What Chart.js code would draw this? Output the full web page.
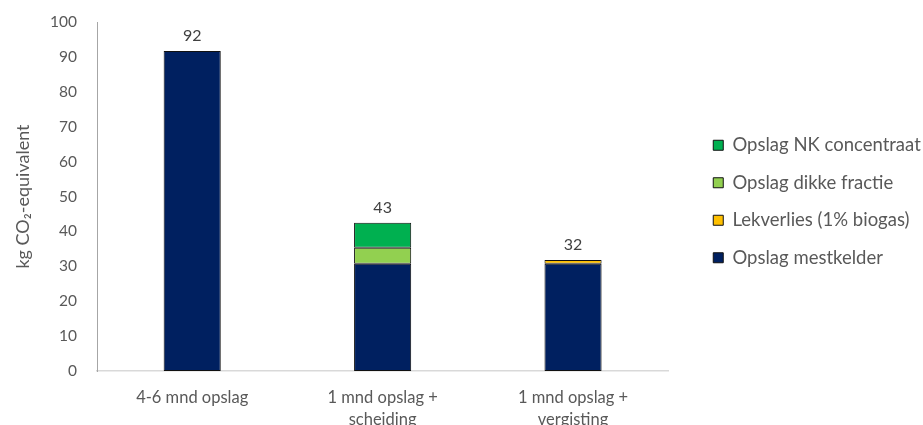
<!DOCTYPE html>
<html lang="nl">
<head>
  <meta charset="UTF-8" />
  <title>CO2-emissie mestopslag</title>
  <script src="https://cdn.jsdelivr.net/npm/chart.js"></script>
  <style>
    html, body {
      margin: 0;
      background: #fff;
      overflow: hidden;
    }
    #wrap {
      width: 923px;
      height: 425px;
      overflow: hidden;
    }
  </style>
</head>
<body>
  <div id="wrap">
    <canvas id="co2Chart" width="923" height="445"></canvas>
  </div>

  <script>
    // Scenario's en emissies per onderdeel (kg CO2-eq); null = geen bijdrage
    const categories = [['4-6 mnd opslag'], ['1 mnd opslag +', 'scheiding'], ['1 mnd opslag +', 'vergisting']];
    const mestkelder = [91.7, 30.7, 30.7];
    const lekverlies = [null, null, 1.1];
    const dikkeFractie = [null, 4.6, null];
    const nkConcentraat = [null, 7.2, null];
    const yTicks = [0, 10, 20, 30, 40, 50, 60, 70, 80, 90, 100];

    const textColor = '#595959';
    const fontFamily = 'Lato, "Open Sans", sans-serif';
    const legendGap = 26;    // extra ruimte tussen grafiek en legenda
    const legendLift = 32;   // legenda iets hoger zetten

    // Totaal boven elke stapel
    const totalLabels = {
      id: 'totalLabels',
      afterDatasetsDraw(chart) {
        const ctx = chart.ctx;
        const yScale = chart.scales.y;
        const xScale = chart.scales.x;
        ctx.save();
        ctx.font = '16px ' + fontFamily;
        ctx.fillStyle = '#404040';
        ctx.textAlign = 'center';
        ctx.textBaseline = 'bottom';
        categories.forEach((c, i) => {
          const total = [mestkelder, lekverlies, dikkeFractie, nkConcentraat]
            .reduce((s, arr) => s + (arr[i] || 0), 0);
          ctx.fillText(String(Math.round(total)), xScale.getPixelForValue(i), yScale.getPixelForValue(total) - 7);
        });
        ctx.restore();
      }
    };

    // Legenda verder van het plotgebied af en wat hoger
    const legendOffset = {
      id: 'legendOffset',
      afterInit(chart) {
        const legend = chart.legend;
        const fit = legend.fit;
        legend.fit = function () {
          fit.call(this);
          this.width += legendGap;
        };
      },
      afterLayout(chart) {
        chart.legend.left += legendGap;
        chart.legend.top -= legendLift;
        chart.legend.bottom -= legendLift;
      }
    };

    const ds = (label, data, color) => ({
      label: label,
      data: data,
      backgroundColor: color,
      borderColor: '#111111',
      borderWidth: 1,
      borderSkipped: false,
      barPercentage: 0.3,
      categoryPercentage: 1
    });

    new Chart(document.getElementById('co2Chart'), {
      type: 'bar',
      data: {
        labels: categories,
        datasets: [
          ds('Opslag mestkelder', mestkelder, '#002060'),
          ds('Lekverlies (1% biogas)', lekverlies, '#ffc000'),
          ds('Opslag dikke fractie', dikkeFractie, '#92d050'),
          ds('Opslag NK concentraat', nkConcentraat, '#00b050')
        ]
      },
      plugins: [totalLabels, legendOffset],
      options: {
        responsive: false,
        animation: false,
        layout: { padding: { top: 22, left: 8, right: 0, bottom: 0 } },
        plugins: {
          tooltip: { enabled: false },
          legend: {
            position: 'right',
            reverse: true,
            labels: {
              color: textColor,
              font: { family: fontFamily, size: 18.5 },
              boxWidth: 10,
              boxHeight: 10,
              padding: 19
            }
          }
        },
        scales: {
          x: {
            stacked: true,
            grid: { display: false },
            border: { display: true, color: '#d9d9d9', width: 1.5 },
            ticks: {
              color: textColor,
              font: { family: fontFamily, size: 16.5, lineHeight: 1.3 },
              maxRotation: 0,
              padding: 8
            },
            afterFit(scale) { scale.height = 74; }
          },
          y: {
            stacked: true,
            min: 0,
            max: 100,
            afterBuildTicks(scale) { scale.ticks = yTicks.map(v => ({ value: v })); },
            grid: { display: false },
            border: { display: true, color: '#a6a6a6', width: 1 },
            ticks: {
              color: textColor,
              font: { family: fontFamily, size: 15.5 },
              padding: 12
            },
            title: {
              display: true,
              text: 'kg CO₂-equivalent',
              color: textColor,
              font: { family: fontFamily, size: 18 },
              padding: { bottom: 14 }
            },
            afterFit(scale) { scale.width = 89; }
          }
        }
      }
    });
  </script>
</body>
</html>
